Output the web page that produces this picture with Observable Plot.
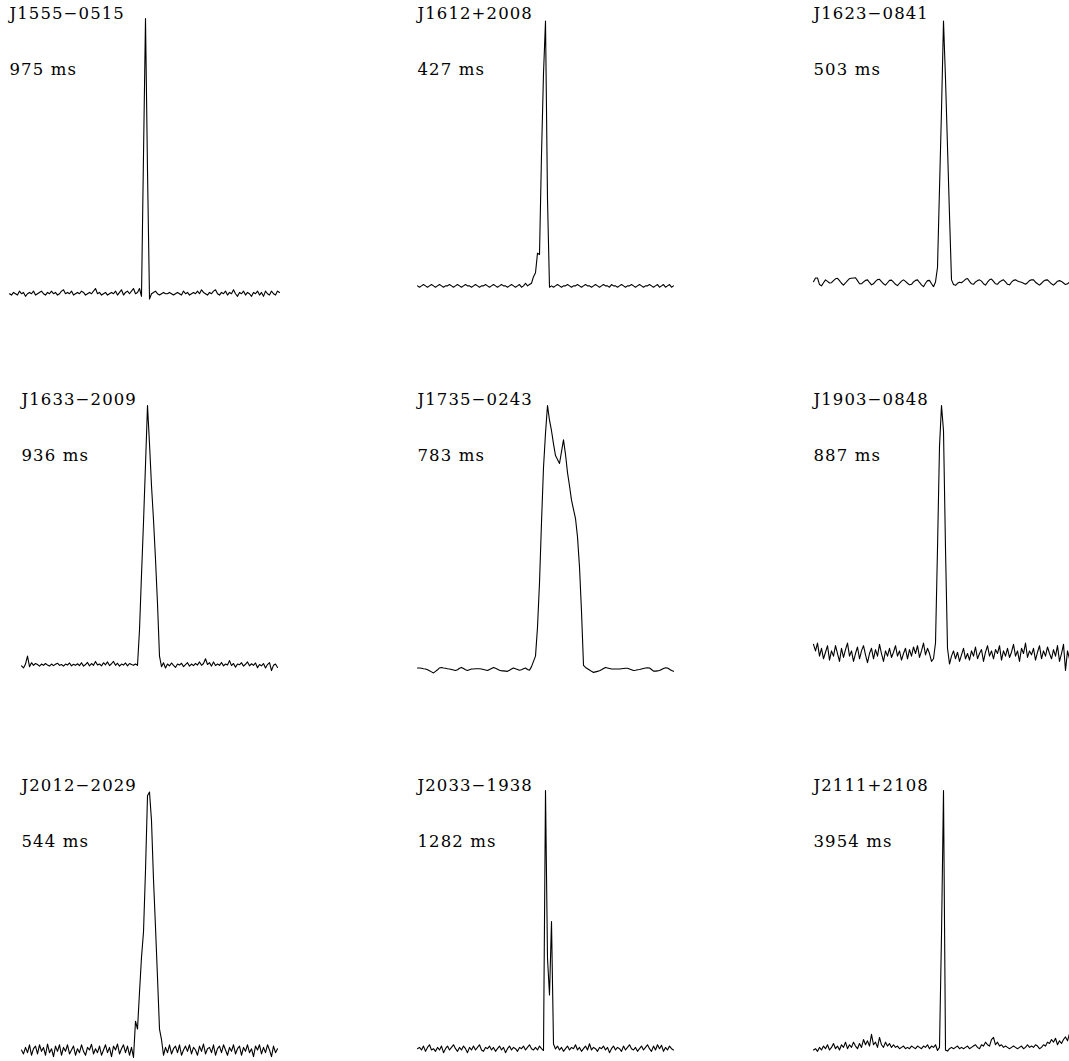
<!DOCTYPE html>
<html>
<head>
<meta charset="utf-8">
<script src="https://cdn.jsdelivr.net/npm/d3@7"></script>
<script src="https://cdn.jsdelivr.net/npm/@observablehq/plot@0.6"></script>
<style>
  html, body { margin: 0; padding: 0; background: #fff; overflow: hidden; }
  #chart svg { display: block; }
</style>
</head>
<body>
<div id="chart"></div>
<script>
// Pulsar names and periods (ms), in reading order (row by row)
const names = ["J1555\u22120515", "J1612+2008", "J1623\u22120841",
               "J1633\u22122009", "J1735\u22120243", "J1903\u22120848",
               "J2012\u22122029", "J2033\u22121938", "J2111+2108"];
const periods = [975, 427, 503, 936, 783, 887, 544, 1282, 3954];
// phase bin index of the first sample of each profile
const startBins = [-6, 0, 0, 0, 0, 0, 0, 0, 0];

// Normalised intensity profiles (percent of peak), one value per phase bin
const J1555 = [-5,-5.5,-4.5,-5,-5.5,-4,-5,-4.5,-6,-5,
-4.5,-5,-4,-5.5,-5,-4.5,-4,-5,-5.5,-4.5,
-5,-4,-5,-4.5,-5.5,-5,-4,-3.5,-5,-4.5,
-5,-4,-5.5,-5,-4.5,-5,-4,-4.5,-5.5,-5,
-4.5,-5,-4,-3,-5,-4.5,-5.5,-5,-4.5,-5.5,
-5,-4.5,-5,-4,-5.5,-4.5,-3.5,-5.5,-4.5,-4,
-5,-4,-3,-5,-4.5,-3,-6,48,100,42,
-7,-5,-4.5,-4,-5,-5.5,-5,-4.5,-5,-5,
-4.5,-5,-5.5,-5,-4.5,-5,-5.5,-4,-5,-4.5,
-5.5,-5,-4.5,-5,-4,-5,-3.5,-4.5,-5,-5.5,
-4.5,-5,-4,-3.5,-5,-5.5,-4.5,-5,-4,-5.5,
-4.5,-5,-3.5,-5,-6,-4.5,-5,-4,-5.5,-4.5,
-5,-6,-4.5,-5,-4,-5.5,-4.5,-6,-4,-5,
-5.5,-4,-5,-5.5,-4,-4.5];

const J1612 = [-2,-2.5,-2,-1.5,-2,-2.5,-2,-1.5,-2,-2.5,
-2,-1.5,-2,-2.5,-2,-2,-1.5,-2,-2.5,-2,
-1.5,-2,-2.5,-2,-1.5,-2,-2,-2.5,-2,-1.5,
-2,-2.5,-2,-2,-1.5,-2,-2.5,-2,-1.5,-2,
-2.5,-2,-1.5,-2,-2,-2.5,-2,-1.5,-2,-2.5,
-2,-1.5,-2.5,-2,-1,-2,-1.5,-1,1.5,3,
10.5,10,48,79,99,31,-2.5,-2,-2.5,-2,
-1.5,-2,-2.5,-2,-2,-1.5,-2,-2.5,-2,-2,
-1.5,-2,-2.5,-2,-1.5,-2,-2,-2.5,-2,-1.5,
-2,-2.5,-2,-1.5,-2,-2,-2.5,-1.5,-2,-2,
-2.5,-2,-1.5,-2,-2.5,-2,-2,-1.5,-2,-2.5,
-2,-1.5,-2,-2.5,-2,-2,-1.5,-2,-2.5,-2,
-1.5,-2.5,-2,-1.5,-2.5,-2,-1.5,-2.5,-2];

const J1623 = [-0.4,1,1,-1.5,-2,-0.8,0.3,-0.3,-0.9,-0.8,
0,0.7,0.9,0,-1,-1.7,-0.9,0,0.8,0.9,
1,1.1,0,-1.2,-1.2,-0.5,0.1,0.3,-0.7,-1.6,
-1.2,-0.3,0.4,0.5,-0.4,-1.2,-1.7,-0.8,0.1,0.2,
-0.6,-1.4,-1.9,-1,-0.2,0.3,-0.3,-1,-1.6,-1.4,
-0.5,0.1,0.3,-0.7,-1.6,-2.3,-1,0,0.1,-1.2,
-2.3,-0.5,5,35,65,99,77,51,25,0.3,
-1.5,-1.8,-1,-0.6,-0.8,-0.2,0.5,0.8,-0.3,-1.2,
-1.4,-0.5,0,0.3,-0.2,-1.2,-1.7,-0.6,0.3,0.6,
-0.3,-1.2,-1.4,-0.5,0,0.3,-0.5,-1.4,-1.6,-0.6,
0.1,0.3,-0.1,-0.4,-0.6,-1,-1.4,-0.8,0,0.3,
0.3,-0.6,-1.2,-1.7,-1,-0.2,0.2,0.3,-0.5,-1.2,
-1.7,-1,-0.2,0,-0.3,-0.9,-1.5,-1.2,-0.5];

const J1633 = [0.3,-0.5,1,4,0,1.5,0.5,1.2,0.8,0.2,
1,0.5,1.2,0.6,0.2,1,0.4,0.9,1.3,0.5,
0.8,0.2,1,0.6,1.4,0.3,0.9,0.5,1.1,0.4,
1.5,0.2,0.8,1.6,0.3,1.2,0.5,2,0.6,1,
0.3,1.5,0.7,1.8,0.4,1.1,2,0.5,1.3,0.2,
1,0.6,1.4,0.3,1.2,0.8,0.5,1,0.5,14,
35,55,77,99.6,85,69,56,41,24,4,
0,1.5,-0.5,1,0.3,1.4,0.5,-0.3,1,0.6,
1.3,0,0.8,1.5,0.2,1,0.4,1.2,0.6,1.8,
0.5,1.2,3,0.8,1.5,0.2,1.8,0.4,1,0.5,
1.6,0.3,1,0.6,2.3,0.4,1.2,-0.2,1,0.7,
1.5,0.2,0.9,1.8,0.3,1.1,0.5,1.4,-0.4,0.8,
0.3,1.2,-0.5,0.8,1.5,-1.5,0.5,1,-0.3];

const J1735 = [-0.5,-0.5,-0.6,-0.8,-0.9,-1.2,-1.6,-2,-2.4,-1.8,
-1.2,-0.5,-0.3,-0.5,-0.6,-0.8,-0.9,-1.1,-1.3,-1.5,
-1.2,-0.6,-0.3,-0.7,-1.2,-1.5,-1.2,-0.9,-0.9,-0.8,
-0.8,-0.8,-0.9,-1.1,-1.3,-1.5,-1.1,-0.7,-0.3,-0.6,
-1,-1.4,-1.6,-1.6,-1.7,-1.8,-1.4,-0.9,-0.5,-0.8,
-1.1,-1.4,-1.2,-0.8,-0.5,-1.1,-1.4,0,2,4,
15,32,55,76,89,99.6,94,90,85,80.5,
79,77.5,82,86.5,81,74,69,63.5,60,56.5,
49.5,38,21,0.5,-0.3,-0.8,-1.3,-1.8,-2.2,-2,
-1.8,-1.6,-1.2,-0.7,-0.3,-0.5,-0.7,-0.9,-0.9,-0.9,
-0.9,-0.9,-0.8,-0.7,-0.6,-0.6,-0.9,-1.2,-1.5,-1.4,
-1.2,-1.1,-0.9,-0.7,-0.5,-0.4,-0.5,-1.1,-1.7,-1.7,
-1.6,-1.5,-1.1,-0.7,-0.4,-0.5,-1,-1.5,-1.8];

const J1903 = [8.5,6,9,4,7,3,5.5,8,2.5,6,
4,8,5,2,7,3.5,6.5,9,4,6,
2,5,7.5,3,6,8,4.5,1.5,5,7,
3,6.5,4,8.5,5,2,6,4,7,3.5,
5.5,8,4,6,2.5,5,7,3,6.5,4,
7.5,5,8,3.5,6,9,4.5,7,5,2,
3,9,45,84,99.6,90,45,7,1,4,
6,3,5.5,2,4.5,7,3,5,2.5,6,
4,7.5,3,5,6.5,2,5.5,8,4,6,
3,6.5,5,8,2.5,6,4,7,3.5,5.5,
8.5,4,6,2,7,5,9,3.5,6,4.5,
7,2.5,5.5,8,3,6,4,7.5,5,3,
6.5,4,8,2,5,8.5,-1.5,6,3];

const J2012 = [1,-0.5,2,0,3,-1,1.5,2.5,-0.5,3,
0.5,2,-1,3.3,0,1.5,-1.5,2.5,0.5,3,
-1,2,0.5,3,-0.5,1,2.5,-1,1.5,0,
3,0.5,-1,2,1,3.2,-0.5,1.5,0,2.5,
-1,1,3,0,2,-1.5,2.5,1,3.3,-0.5,
1.5,3,0,2.5,-1,2,-1.8,12,9,23,
36.4,46,69.5,98,99.4,88.5,66,47.8,28.7,9,
5,-1,2,0,3,-0.5,1.5,2.5,0,3,
-1,1,2.5,0.5,3,-0.5,2,1,-1,2.5,
0.5,3.3,-0.5,1.5,2,0,3,-1,1.5,2.5,
0,3,1,-1,2,0.5,3,-0.5,1.5,2.5,
-1,2,0.5,3,0,1.5,-1.5,2.5,1,3,
-0.5,2,0,3,1,-1.5,2.5,0,1.5];

const J2033 = [1.5,2,1,2.5,0.5,2,3,1,1.5,0.5,
2,1,2.5,0,1.5,2.5,1,2,3,1.5,
0.5,2,1,2.5,1.5,0,2,1,2.5,1,
2,3,1,0.5,2,1.5,2.5,1,2,0.5,
1.5,2.5,1,2,0,1.5,2.5,1,2,1.5,
0.5,2,1.5,2.5,1,2,3,1.5,1,2,
1,2.5,1.5,0.8,100,36,22,50,3.3,1.4,
2.5,1,2,0.5,1.5,2.5,1,2,1.5,3,
1,2,0.5,1.5,2.5,1,3.4,1,2,1.5,
0.5,2,1.5,2.5,1,2,0,1.5,2.5,1,
2,1.5,0.5,2.5,1,2,3,1.5,1,2,
0.5,1.5,2.5,1,2,3,1.5,0.5,2.5,1,
3,1.5,2.8,0.5,2,1,2.5,1.5,1];

const J2111 = [1,1.5,0.5,2,1,2.5,1.5,3,1,2,
3.5,1.5,2.5,1,3,2,4,1.5,3,2,
4,2.5,1.5,3.5,2,5,3,4.5,2.5,7,
3,4,2,5.8,3,2,4,2.5,3.5,2,
3,2,2.5,1.5,2,2.5,1.5,2,1.5,2.5,
2,1.5,2.5,2,1.5,2.5,2,3,1.5,2.5,
2,3,0.8,2,45,100,1,0.6,1.5,2,
1.5,2,2.5,1.5,2,1.5,2,2.5,1.5,2,
2.5,3,2,1.5,3,2.5,4,3,2.5,5,
5.8,3,4,2.5,3,2,2.5,2,1.5,2,
2.5,2,1.5,2,2.5,1.5,2,3,2,2.5,
2,3,2.5,1.5,2,3,2.5,4,3.5,5,
4,5.5,3,4.5,3.5,5,6,4.5,7.2];

const profiles = [J1555, J1612, J1623, J1633, J1735, J1903, J2012, J2033, J2111];

// Build a tidy table for Plot
const samples = profiles.flatMap((p, k) => p.map((v, j) => ({
  name: names[k], col: k % 3, row: Math.floor(k / 3), bin: startBins[k] + j, v
})));
const labels = names.map((n, k) => ({
  name: n, period: periods[k] + " ms", col: k % 3, row: Math.floor(k / 3), bin: startBins[k]
}));

const chart = Plot.plot({
  width: 1069,
  height: 1061,
  marginLeft: 20,
  marginRight: 0,
  marginTop: 17,
  marginBottom: 1,
  style: "background: white; font-family: 'DejaVu Serif', serif; letter-spacing: 1.1px;",
  x: {domain: [0, 128], axis: null},
  y: {domain: [-3, 100], axis: null},
  fx: {domain: [0, 1, 2], paddingInner: 0.3544, paddingOuter: 0, axis: null},
  fy: {domain: [0, 1, 2], paddingInner: 0.3014, paddingOuter: 0, axis: null},
  marks: [
    Plot.line(samples, {x: "bin", y: "v", z: "name", fx: "col", fy: "row",
      stroke: "black", strokeWidth: 1.1, curve: "linear"}),
    Plot.text(labels, {x: "bin", frameAnchor: "top", fx: "col", fy: "row",
      text: "name", textAnchor: "start", lineAnchor: "bottom",
      fontSize: 16.5, fontFamily: "DejaVu Serif", fill: "black"}),
    Plot.text(labels, {x: "bin", frameAnchor: "top", fx: "col", fy: "row",
      text: "period", textAnchor: "start", lineAnchor: "bottom", dy: 56,
      fontSize: 16.5, fontFamily: "DejaVu Serif", fill: "black"})
  ]
});
document.getElementById("chart").appendChild(chart);
</script>
</body>
</html>
